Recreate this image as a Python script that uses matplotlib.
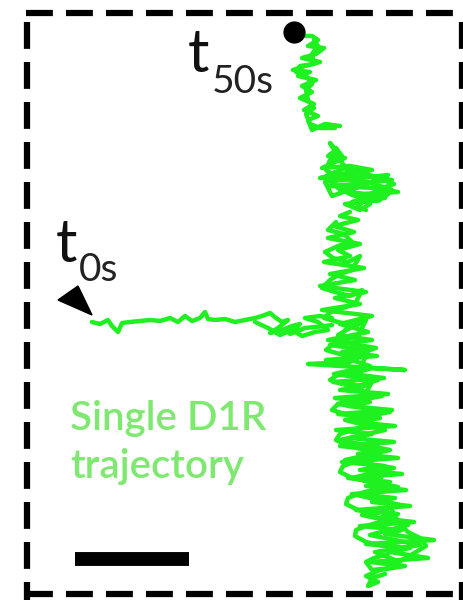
import matplotlib.pyplot as plt
from matplotlib.lines import Line2D

# trajectory pieces in pixel coordinates (x right, y down)
horiz_x = [92, 100, 108, 112, 118, 122, 130, 140, 150, 160, 170, 178, 185, 192, 200, 205, 208, 215,
           225, 235, 245, 255, 262, 270, 276, 282, 288, 278, 270, 282, 292, 300, 290, 305, 315, 325, 332]
horiz_y = [322, 324, 320, 326, 332, 323, 322, 321, 320, 321, 318, 322, 316, 321, 318, 312, 319, 320,
           319, 322, 320, 318, 316, 313, 318, 322, 320, 328, 333, 330, 326, 324, 334, 328, 327, 326, 325]

horiz2 = [(255, 322), (268, 328), (280, 335), (292, 330), (302, 336), (315, 332), (328, 330),
          (318, 322), (305, 318), (320, 316), (332, 318)]

down_x = [345, 360, 338, 372, 330, 365, 342, 377, 326, 350, 308, 340, 405, 372, 352, 384, 333, 362, 340,
          388, 335, 370, 348, 392, 338, 380, 355, 395, 336, 372, 350, 394, 340, 378, 358, 398, 342, 385,
          360, 402, 348, 390, 366, 406, 352, 395, 372, 410, 356, 398, 378, 414, 360, 402, 385, 434, 366,
          410, 390, 428, 370, 405, 380, 366, 378, 368, 372, 385]
down_y = [330, 322, 335, 340, 345, 350, 352, 356, 360, 362, 364, 366, 370, 368, 374, 378, 382, 386, 390,
          394, 398, 402, 406, 410, 414, 418, 422, 426, 430, 434, 438, 442, 446, 450, 454, 458, 462, 466,
          470, 474, 478, 482, 486, 490, 494, 498, 502, 506, 510, 514, 518, 522, 526, 530, 534, 540, 544,
          548, 552, 558, 562, 566, 570, 576, 582, 586, 578, 574]

up_x = [395, 375, 420, 370, 408, 362, 400, 357, 398, 352, 394, 345, 390, 340, 385, 345, 390, 338, 382,
        350, 378, 334, 370, 345, 376, 328, 368, 340, 372, 322, 360, 335, 366, 320, 355, 330, 364, 324,
        350, 338, 360, 328, 354, 334, 358, 340, 350]
up_y = [560, 552, 545, 535, 525, 515, 505, 495, 487, 478, 468, 460, 450, 440, 430, 420, 412, 404, 396,
        388, 380, 374, 366, 358, 348, 340, 332, 324, 316, 310, 304, 298, 292, 286, 280, 274, 268, 262,
        256, 250, 244, 238, 232, 226, 220, 216, 212]

mid = [(336, 222), (328, 230), (344, 234), (352, 242), (338, 246), (325, 252), (333, 258), (348, 262),
       (360, 256), (352, 270), (340, 274), (330, 280), (322, 288), (335, 292), (350, 296), (362, 290),
       (355, 304), (343, 308), (331, 312), (324, 318), (338, 322), (356, 326), (366, 320), (358, 336),
       (345, 340), (333, 344), (326, 350), (340, 354), (357, 358), (368, 352), (360, 368), (348, 372),
       (336, 376), (330, 380), (342, 384), (360, 388), (372, 382), (364, 396), (350, 400), (338, 404),
       (332, 410), (345, 414), (362, 418), (374, 412), (366, 426), (352, 430), (340, 434), (336, 440),
       (348, 446), (366, 450), (378, 444), (368, 458), (354, 462), (343, 466), (340, 472), (352, 478),
       (370, 482), (382, 476), (372, 490), (358, 494), (348, 498), (346, 504), (358, 510), (376, 514),
       (388, 508), (380, 522), (366, 526), (356, 530), (355, 536), (366, 542), (384, 546), (396, 540),
       (388, 554), (374, 558), (366, 562), (372, 570), (390, 568), (402, 560), (416, 552), (426, 546),
       (420, 538), (408, 532), (400, 524), (395, 516), (390, 506)]

blob_x = [370, 360, 345, 380, 352, 385, 340, 360, 398, 375, 330, 355, 392, 365, 320, 340, 372, 350,
          322, 335, 345, 328, 336, 330, 348, 364, 388, 325, 332, 364]
blob_y = [204, 210, 204, 200, 202, 198, 190, 194, 192, 188, 186, 184, 180, 176, 178, 174, 170, 166,
          168, 162, 158, 156, 150, 143, 172, 185, 175, 182, 196, 185]

blob2 = [(336, 148), (342, 156), (330, 160), (326, 170), (338, 178), (352, 180), (368, 182), (380, 186),
         (392, 190), (386, 196), (372, 194), (360, 198), (350, 194), (338, 188), (326, 176), (345, 168),
         (362, 172), (378, 178), (394, 184), (376, 190), (358, 206), (366, 210)]

top_x = [340, 325, 312, 308, 318, 304, 314, 300, 312, 302, 316, 298, 310, 293, 305, 320, 302, 316,
         324, 308, 318, 312, 300]
top_y = [126, 124, 130, 120, 116, 110, 104, 98, 92, 86, 80, 76, 72, 70, 66, 62, 58, 54,
         48, 46, 40, 36, 36]

top2 = [(335, 128), (320, 128), (310, 124), (306, 114), (314, 108), (308, 100), (306, 90), (312, 84),
        (306, 76), (296, 72), (300, 66), (314, 64), (312, 54), (318, 46), (314, 40)]

green = '#1ff01f'
text_green = '#7ee870'

fig = plt.figure(figsize=(4.64, 6.04), dpi=100)
ax = fig.add_axes([0, 0, 1, 1])
ax.set_xlim(0, 464)
ax.set_ylim(604, 0)
ax.axis('off')

pieces = [(horiz_x, horiz_y), (down_x, down_y), (up_x, up_y), (blob_x, blob_y), (top_x, top_y)]
for pts in [horiz2, mid, blob2, top2]:
    pieces.append(tuple(zip(*pts)))
for xs, ys in pieces:
    ax.plot(xs, ys, c=green, lw=3.2, solid_joinstyle='round', solid_capstyle='round')

# dashed frame
dash = dict(c='black', lw=4.5, linestyle=(0, (4.3, 2.1)), solid_capstyle='butt')
ax.add_line(Line2D([26, 466], [13, 13], **dash))
ax.add_line(Line2D([26, 466], [594, 594], **dash))
ax.add_line(Line2D([27, 27], [22, 600], **dash))
ax.add_line(Line2D([462, 462], [22, 600], **dash))

# start / end markers
ax.plot([294], [32], 'o', c='black', ms=15)
ax.fill([58, 78, 92], [300, 286, 315], c='black')

# labels
fnt = 'Lato'
ax.text(188, 72, 't', fontsize=43, family=fnt, color='#111111')
ax.text(212, 93, '50s', fontsize=28, family=fnt, color='#222222')
ax.text(56, 262, 't', fontsize=43, family=fnt, color='#111111')
ax.text(79, 281, '0s', fontsize=28, family=fnt, color='#222222')

ax.text(70, 430, 'Single D1R', fontsize=29, family=fnt, color=text_green, fontweight='semibold')
ax.text(70, 478, 'trajectory', fontsize=29, family=fnt, color=text_green, fontweight='semibold')

# scale bar
ax.plot([75, 189], [559, 559], c='black', lw=10, solid_capstyle='butt')

fig.savefig('out.png', dpi=100)
